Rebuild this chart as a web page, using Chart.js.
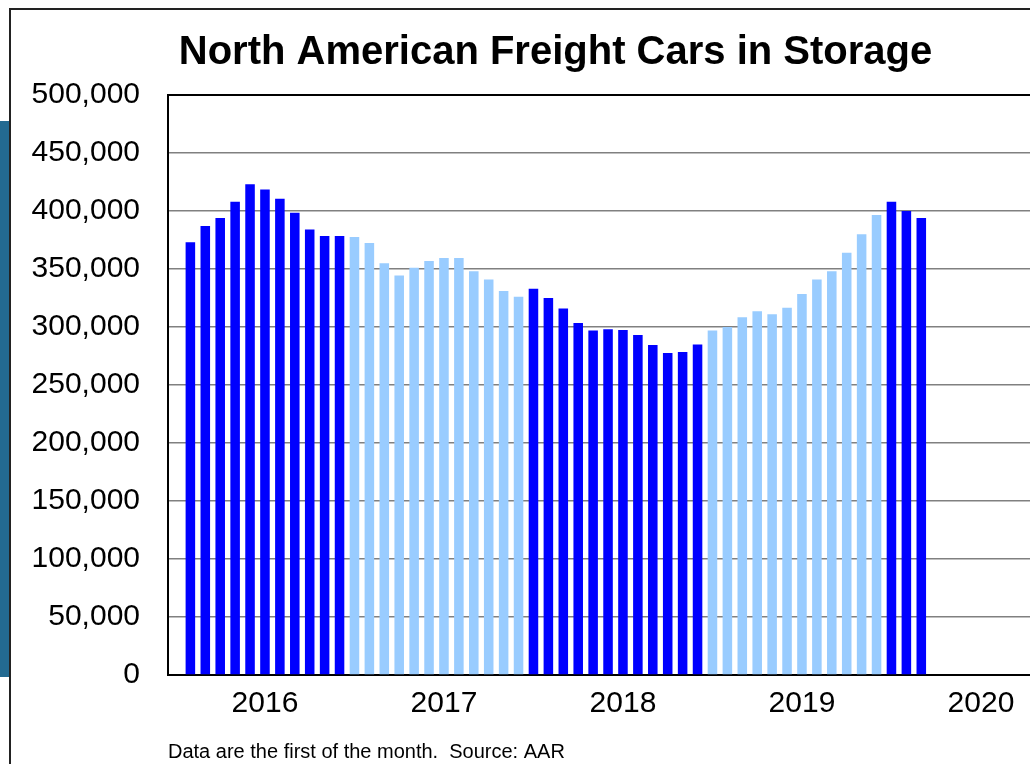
<!DOCTYPE html>
<html>
<head>
<meta charset="utf-8">
<script src="https://cdn.jsdelivr.net/npm/chart.js@4.4.1/dist/chart.umd.min.js"></script>
<style>
  html, body { margin: 0; padding: 0; background: #fff; overflow: hidden; }
  #wrap { position: relative; width: 1110px; height: 764px; }
  #frame { position: absolute; left: 9px; top: 8px; width: 1200px; height: 900px;
           border-left: 2px solid #222; border-top: 2px solid #222; pointer-events: none; }
  #tab { position: absolute; left: 0; top: 121px; width: 9px; height: 556px; background: #236a91; }
</style>
</head>
<body>
<div id="wrap">
  <canvas id="storageChart"></canvas>
  <div id="frame"></div>
  <div id="tab"></div>
</div>
<script>
// monthly axis, Jan 2016 .. Dec 2020
const years = [2016, 2017, 2018, 2019, 2020];
const monthNames = ['Jan', 'Feb', 'Mar', 'Apr', 'May', 'Jun', 'Jul', 'Aug', 'Sep', 'Oct', 'Nov', 'Dec'];

// cars in storage, first of month, Feb 2016 .. Mar 2020
const cars2016 = [373000, 387000, 394000, 408000, 423000, 418500, 410500, 398500, 384000, 378500, 378500];
const cars2017 = [377500, 372500, 355000, 344500, 351000, 357000, 359500, 359500, 348000, 341000, 331000, 326000];
const cars2018 = [333000, 325000, 316000, 303500, 297000, 298000, 297500, 293000, 284500, 277500, 278500, 285000];
const cars2019 = [297000, 300000, 308500, 313500, 311000, 316500, 328500, 341000, 348000, 364000, 380000, 396500];
const cars2020 = [408000, 400000, 394000];

const yTicks = [0, 50000, 100000, 150000, 200000, 250000, 300000, 350000, 400000, 450000, 500000];

const labels = [];
years.forEach(y => monthNames.forEach(m => labels.push(m + ' ' + y)));

// first value is Feb 2016, so Jan 2016 is empty; pad the rest of 2020
const values = [null].concat(cars2016, cars2017, cars2018, cars2019, cars2020);
while (values.length < labels.length) values.push(null);

const DARK = '#0000ff';
const LIGHT = '#99ccff';
const FONT = '"Liberation Sans", Arial, sans-serif';

// the original centres its title a little right of the canvas middle
const titleShift = {
    id: 'titleShift',
    afterLayout(chart) {
        if (chart.titleBlock) chart.titleBlock.left += 48;
    },
};

const ctx = document.getElementById('storageChart').getContext('2d');

const storageChart = new Chart(ctx, {
    type: 'bar',
    data: {
        labels: labels,
        datasets: [{
            label: 'Freight cars in storage',
            data: values,
            backgroundColor: c => (Math.floor(c.dataIndex / 12) % 2 === 0 ? DARK : LIGHT),
            borderWidth: 0,
            categoryPercentage: 1.0,
            barPercentage: 0.64,
        }],
    },
    plugins: [titleShift],
    options: {
        responsive: true,
        maintainAspectRatio: false,
        animation: false,
        layout: { padding: { top: 0, left: 0, right: 47, bottom: 0 } },
        plugins: {
            legend: { display: false },
            tooltip: { enabled: false },
            title: {
                display: true,
                text: 'North American Freight Cars in Storage',
                color: '#000',
                font: { family: FONT, size: 40, weight: 'bold', lineHeight: 1.2 },
                padding: { top: 29, bottom: 18 },
            },
        },
        scales: {
            x: {
                offset: true,
                grid: { display: false, drawTicks: false },
                border: { color: '#000', width: 2 },
                ticks: {
                    autoSkip: false,
                    maxRotation: 0,
                    padding: 11,
                    color: '#000',
                    font: { family: FONT, size: 30 },
                    callback: (v, i) => (i % 12 === 6 ? years[Math.floor(i / 12)] : ''),
                },
                title: {
                    display: true,
                    text: 'Data are the first of the month.  Source: AAR',
                    align: 'start',
                    color: '#000',
                    font: { family: FONT, size: 20, lineHeight: 1.2 },
                    padding: { top: 7, bottom: 0 },
                },
            },
            y: {
                min: 0,
                max: 500000,
                afterBuildTicks: s => { s.ticks = yTicks.map(v => ({ value: v })); },
                afterFit: s => { s.width = 168; },
                grid: {
                    drawTicks: false,
                    color: c => (c.tick && c.tick.value === 500000 ? '#000' : '#808080'),
                    lineWidth: c => (c.tick && c.tick.value === 500000 ? 2 : 1.5),
                },
                border: { color: '#000', width: 2 },
                ticks: {
                    padding: 28,
                    color: '#000',
                    font: { family: FONT, size: 30 },
                    callback: v => v.toLocaleString('en-US'),
                },
            },
        },
    },
});
</script>
</body>
</html>
